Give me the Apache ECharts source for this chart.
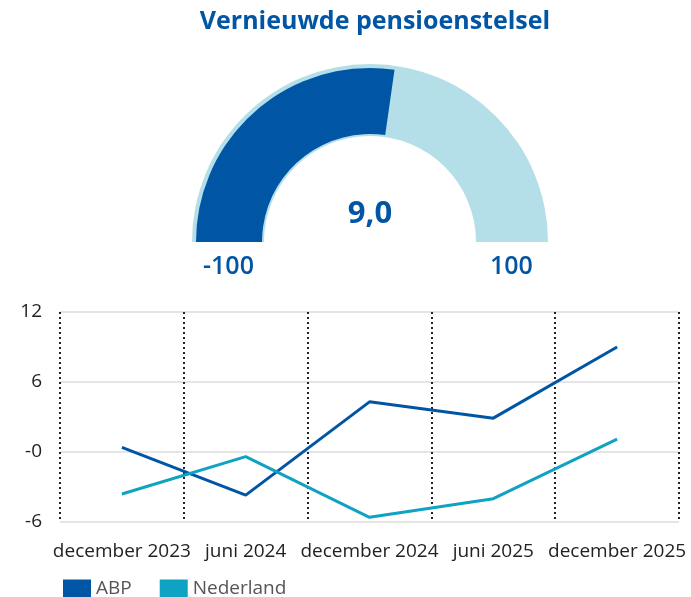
<!DOCTYPE html>
<html>
<head>
<meta charset="utf-8">
<script src="https://cdn.jsdelivr.net/npm/echarts@6/dist/echarts.min.js"></script>
<style>
  html, body { margin: 0; padding: 0; background: #fff; }
  #chart { width: 691px; height: 597px; }
</style>
</head>
<body>
<div id="chart"></div>
<script>
// gauge
const gaugeTitle = 'Vernieuwde pensioenstelsel';
const gaugeMin = -100;
const gaugeMax = 100;
const gaugeValue = 9.0;

// lijn
const categories = ['december 2023', 'juni 2024', 'december 2024', 'juni 2025', 'december 2025'];
const abpValues = [0.4, -3.7, 4.3, 2.9, 9.0];
const nlValues = [-3.6, -0.4, -5.6, -4.0, 1.1];
const yTicks = [-6, 0, 6, 12];

const darkBlue = '#0055a4';
const lightBlue = '#b5dfe8';
const teal = '#10a2c2';

const myChart = echarts.init(document.getElementById('chart'));

const option = {
  animation: false,
  textStyle: { fontFamily: 'Open Sans' },
  title: {
    text: gaugeTitle,
    left: 370,
    textAlign: 'center',
    top: 4,
    textStyle: { color: darkBlue, fontSize: 25, fontWeight: 'bold', fontFamily: 'Open Sans' }
  },
  graphic: [
    {
      type: 'text', left: 203, top: 254,
      style: { text: String(gaugeMin), fill: darkBlue, fontSize: 25, fontWeight: 600, fontFamily: 'Open Sans' }
    },
    {
      type: 'text', left: 490, top: 254,
      style: { text: String(gaugeMax), fill: darkBlue, fontSize: 25, fontWeight: 600, fontFamily: 'Open Sans' }
    }
  ],
  legend: {
    left: 58,
    top: 574,
    itemWidth: 28,
    itemHeight: 18,
    itemGap: 28,
    icon: 'rect',
    textStyle: { color: '#555', fontSize: 19, fontFamily: 'Open Sans' },
    data: ['ABP', 'Nederland']
  },
  grid: { left: 60, right: 12, top: 312, bottom: 75, containLabel: false },
  xAxis: {
    type: 'category',
    data: categories,
    boundaryGap: true,
    axisLine: { show: false },
    axisTick: { show: false },
    axisLabel: { color: '#222', fontSize: 19, margin: 20, interval: 0 },
    splitLine: { show: true, lineStyle: { color: '#222', type: [2, 3], width: 2 } }
  },
  yAxis: {
    type: 'value',
    min: -6,
    max: 12,
    interval: 6,
    axisLine: { show: false },
    axisTick: { show: false },
    axisLabel: {
      color: '#222', fontSize: 19, margin: 18,
      formatter: v => (yTicks.includes(v) ? (v === 0 ? '-0' : String(v)) : '')
    },
    splitLine: { lineStyle: { color: '#dcdcdc', width: 1.5 } }
  },
  series: [
    {
      type: 'gauge',
      center: [370, 242],
      radius: 178,
      startAngle: 180,
      endAngle: 0,
      min: gaugeMin,
      max: gaugeMax,
      axisLine: { lineStyle: { width: 72, color: [[1, lightBlue]] } },
      progress: { show: false },
      pointer: { show: false },
      axisTick: { show: false },
      splitLine: { show: false },
      axisLabel: { show: false },
      detail: { show: false },
      data: [{ value: gaugeValue }]
    },
    {
      type: 'gauge',
      center: [370, 242],
      radius: 174,
      startAngle: 180,
      endAngle: 0,
      min: gaugeMin,
      max: gaugeMax,
      axisLine: { lineStyle: { width: 66, color: [[1, 'rgba(0,0,0,0)']] } },
      progress: { show: true, width: 66, roundCap: false, itemStyle: { color: darkBlue } },
      pointer: { show: false },
      axisTick: { show: false },
      splitLine: { show: false },
      axisLabel: { show: false },
      detail: {
        offsetCenter: [0, -28],
        fontSize: 31,
        fontWeight: 'bold',
        fontFamily: 'Open Sans',
        color: darkBlue,
        formatter: v => v.toFixed(1).replace('.', ',')
      },
      data: [{ value: gaugeValue }]
    },
    {
      name: 'ABP',
      type: 'line',
      data: abpValues,
      showSymbol: false,
      symbol: 'none',
      lineStyle: { color: darkBlue, width: 3 },
      itemStyle: { color: darkBlue }
    },
    {
      name: 'Nederland',
      type: 'line',
      data: nlValues,
      showSymbol: false,
      symbol: 'none',
      lineStyle: { color: teal, width: 3 },
      itemStyle: { color: teal }
    }
  ]
};

myChart.setOption(option);
</script>
</body>
</html>
